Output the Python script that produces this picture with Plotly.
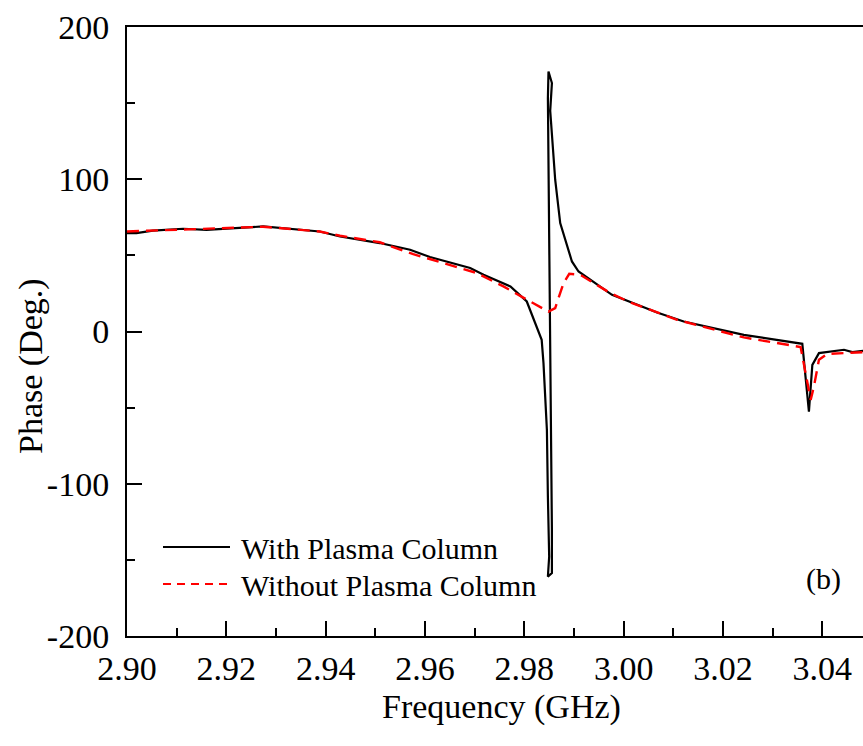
import plotly.graph_objects as go

# ---- data ----
freq_with = [2.9000, 2.9019, 2.9052, 2.9113, 2.9160, 2.9274, 2.9388, 2.9429, 2.9509,
             2.9570, 2.9610, 2.9691, 2.9718, 2.9772, 2.9805, 2.9825, 2.9835, 2.98386,
             2.98455, 2.98475, 2.98501, 2.98475, 2.98556, 2.98556, 2.98542, 2.98522,
             2.98522, 2.98501, 2.98487, 2.98475, 2.98475, 2.98487, 2.98556, 2.98522,
             2.98570, 2.98622, 2.98723, 2.98959, 2.99092, 2.99766, 3.00674, 3.01210,
             3.02420, 3.03564, 3.03598, 3.03731, 3.03800, 3.03933, 3.04437, 3.04607,
             3.04808, 3.04900]
phase_with = [64.6, 64.6, 66.2, 67.5, 66.8, 69.0, 65.7, 62.4, 58.1,
              53.7, 48.9, 41.7, 37.3, 29.6, 19.7, 3.3, -5.5, -20.6,
              -64.6, -108.4, -147.8, -161.0, -158.7, -130.3, -86.3, -42.7,
              -9.9, 42.7, 86.5, 119.0, 153.0, 170.8, 163.2, 145.0,
              126.0, 99.7, 71.2, 46.0, 39.4, 24.1, 12.5, 6.6,
              -2.2, -8.1, -8.1, -52.6, -21.9, -14.2, -12.0, -13.5,
              -12.5, -12.5]

freq_without = [2.9000, 2.9052, 2.9113, 2.9274, 2.9388, 2.9429, 2.9509, 2.95764,
                2.97043, 2.97580, 2.98118, 2.98487, 2.98622, 2.98790, 2.98905,
                2.99127, 2.99732, 3.00135, 3.01077, 3.02420, 3.03564, 3.03766,
                3.03832, 3.03933, 3.04102, 3.04506, 3.04900]
phase_without = [65.7, 66.2, 67.2, 68.8, 65.7, 62.9, 58.6, 50.8,
                 38.4, 29.6, 19.7, 13.1, 15.4, 31.8, 37.9,
                 37.3, 25.2, 19.1, 7.7, -3.9, -10.2, -44.9,
                 -36.1, -18.6, -14.7, -14.2, -13.5]

series_names = ["With Plasma Column", "Without Plasma Column"]
x_ticks = [2.90, 2.92, 2.94, 2.96, 2.98, 3.00, 3.02, 3.04]
x_tick_labels = ["2.90", "2.92", "2.94", "2.96", "2.98", "3.00", "3.02", "3.04"]
y_ticks = [-200, -100, 0, 100, 200]
y_tick_labels = ["-200", "-100", "0", "100", "200"]
x_title = "Frequency (GHz)"
y_title = "Phase (Deg.)"
panel_label = "(b)"

FONT = "Liberation Serif, Times New Roman, serif"

fig = go.Figure()
fig.add_trace(go.Scatter(x=freq_with, y=phase_with, mode="lines",
                         line=dict(color="black", width=2.2),
                         name=series_names[0], showlegend=False))
fig.add_trace(go.Scatter(x=freq_without, y=phase_without, mode="lines",
                         line=dict(color="#ff0000", width=2.4, dash="12px,7px"),
                         name=series_names[1], showlegend=False))

# pixel -> paper helpers (plot area 127..863 x 27..636)
L = 127.0
R = 863.0
T = 27.0
B = 636.0
def px(xp):
    return (xp - L) / (R - L)
def py(yp):
    return (B - yp) / (B - T)

# manual legend (long line samples as in reference)
fig.add_shape(type="line", xref="paper", yref="paper",
              x0=px(163), x1=px(230), y0=py(547), y1=py(547),
              line=dict(color="black", width=2))
fig.add_shape(type="line", xref="paper", yref="paper",
              x0=px(163), x1=px(230), y0=py(584), y1=py(584),
              line=dict(color="#ff0000", width=2, dash="8px,6px"))
fig.add_annotation(xref="paper", yref="paper", x=px(239), y=py(548),
                   text=series_names[0], showarrow=False, xanchor="left", yanchor="middle",
                   font=dict(family=FONT, size=30, color="black"))
fig.add_annotation(xref="paper", yref="paper", x=px(239), y=py(585),
                   text=series_names[1], showarrow=False, xanchor="left", yanchor="middle",
                   font=dict(family=FONT, size=30, color="black"))
fig.add_annotation(xref="paper", yref="paper", x=px(823), y=py(579),
                   text=panel_label, showarrow=False, xanchor="center", yanchor="middle",
                   font=dict(family=FONT, size=30, color="black"))

# axis titles placed as in the reference
fig.add_annotation(xref="paper", yref="paper", x=px(501), y=py(707),
                   text=x_title, showarrow=False, xanchor="center", yanchor="middle",
                   font=dict(family=FONT, size=34, color="black"))
fig.add_annotation(xref="paper", yref="paper", x=px(31), y=py(366),
                   text=y_title, showarrow=False, xanchor="center", yanchor="middle",
                   textangle=-90,
                   font=dict(family=FONT, size=34, color="black"))

fig.update_layout(
    width=863, height=746,
    margin=dict(l=127, r=0, t=27, b=110),
    paper_bgcolor="white", plot_bgcolor="white",
    font=dict(family=FONT, size=34, color="black"),
    showlegend=False,
    xaxis=dict(
        range=[2.90, 3.0482], tickmode="array", tickvals=x_ticks, ticktext=x_tick_labels,
        ticks="inside", ticklen=15, tickwidth=2, tickcolor="black",
        minor=dict(dtick=0.01, tick0=2.90, ticks="inside", ticklen=8, tickwidth=2, tickcolor="black"),
        showline=True, linecolor="black", linewidth=2, mirror=True,
        showgrid=False, zeroline=False,
        tickfont=dict(family=FONT, size=34), ticklabelstandoff=1,
    ),
    yaxis=dict(
        range=[-200, 200], tickmode="array", tickvals=y_ticks, ticktext=y_tick_labels,
        ticks="inside", ticklen=15, tickwidth=2, tickcolor="black",
        minor=dict(dtick=50, tick0=-200, ticks="inside", ticklen=8, tickwidth=2, tickcolor="black"),
        showline=True, linecolor="black", linewidth=2, mirror=False,
        showgrid=False, zeroline=False,
        tickfont=dict(family=FONT, size=34), ticklabelstandoff=9,
    ),
)

fig.write_html(
    "out.html",
    config={"displayModeBar": False},
    post_script="document.body.style.margin='0';document.body.style.overflow='hidden';",
)
